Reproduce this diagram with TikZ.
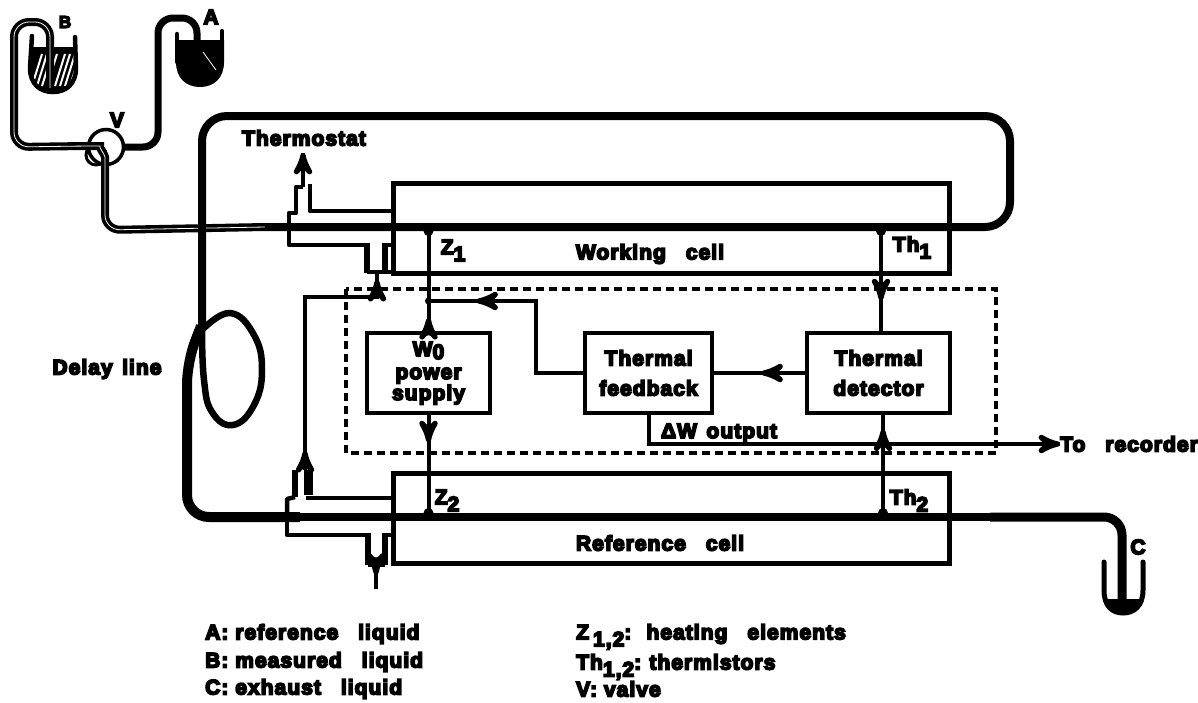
\documentclass[tikz,border=0pt]{standalone}
\usepackage{fontspec}
\setmainfont{Liberation Sans}[LetterSpace=5,BoldFeatures={FakeBold=8}]
\usetikzlibrary{arrows,positioning,decorations.markings}
\newcommand{\gap}{\hspace{.45em}}
\newcommand{\wgap}{\hspace{.95em}}
\newcommand{\lowered}[1]{\raisebox{-7pt}[0pt][0pt]{#1}}
\begin{document}
\begin{tikzpicture}[x=1pt,y=-1pt,>=stealth',
	unit/.style={draw=black,line width=4pt,rectangle,outer sep=0pt,inner sep=0pt,align=center,font=\fontsize{21}{27}\selectfont\bfseries},
	cell/.style={draw=black,line width=5pt,rectangle,outer sep=0pt,minimum width=556pt,minimum height=90pt},
	lab/.style={inner sep=0pt,font=\fontsize{21}{24}\selectfont\bfseries},
	pipe/.style={line width=8pt},
	tube/.style={line width=7pt,rounded corners=15pt},
	capillary/.style={double=white,double distance=.8pt,line width=3.6pt,rounded corners=15pt},
	jacket/.style={line width=4.5pt},
	wire/.style={line width=4pt},
	junction/.style={circle,fill=black,inner sep=0pt,minimum size=10pt},
	midarrow/.style={postaction={decorate,decoration={markings,mark=at position #1 with {\arrow[scale=1.35]{stealth'}}}}}]
	\useasboundingbox (0,0) rectangle (1198,702);

	\node[cell]						(wcell)		at (671,228)			{};
	\node[cell]						(rcell)		[below=200pt of wcell]	{};
	\node[unit,minimum width=123pt,minimum height=80pt]		(power)		at (428.5,373)			{W\raisebox{-3pt}[0pt][0pt]{0}\\[-4pt]power\\[-6pt]supply};
	\node[unit,minimum width=127pt,minimum height=80pt]		(feedback)	[right=95pt of power]	{Thermal\\[3pt]feedback};
	\node[unit,minimum width=143pt,minimum height=80pt]		(detector)	[right=95pt of feedback]	{Thermal\\[3pt]detector};

	\node[lab]	(thermostat)	at (304,138)	{Thermostat};
	\node[lab]	(delay)			at (107,369)	{Delay\gap line};
	\node[lab]	(working)		at (650,254)	{Working\wgap cell};
	\node[lab]	(reference)		at (660,543)	{Reference\wgap cell};
	\node[lab]	(zone)			at (453,247)	{Z\lowered{1}};
	\node[lab]	(ztwo)			at (447,497)	{Z\lowered{2}};
	\node[lab]	(thone)			at (912,244)	{Th\lowered{1}};
	\node[lab]	(thtwo)			at (909,497)	{Th\lowered{2}};
	\node[lab]	(output)		at (719,433)	{ΔW\gap output};
	\node[lab,anchor=west]	(recorder)	at (1060,444)	{To\wgap recorder};
	\node[lab]	(valvelabel)	at (117,120)	{V};
	\node[lab,font=\fontsize{17}{20}\selectfont\bfseries]	(blabel)	at (65,22)		{B};
	\node[lab]	(alabel)		at (211,17)		{A};
	\node[lab]	(clabel)		at (1138,547)	{C};
	\node[lab,anchor=west]	(lega)	at (205,634)	{A: reference\wgap liquid};
	\node[lab,anchor=west]	(legb)	at (205,662)	{B: measured\wgap liquid};
	\node[lab,anchor=west]	(legc)	at (205,689)	{C: exhaust\wgap liquid};
	\node[lab,anchor=west]	(legz)	at (576,634)	{Z\hspace{4pt}\lowered{1,2}:\hspace{6pt} heating\wgap elements};
	\node[lab,anchor=west]	(legth)	at (576,662)	{Th\lowered{1,2}:\hspace{-1pt} thermistors};
	\node[lab,anchor=west]	(legv)	at (576,689)	{V: valve};

	\coordinate	(z1top)		at (428.5,227);
	\coordinate	(z2bot)		at (428.5,517);
	\coordinate	(th1top)	at (881,227);
	\coordinate	(th2bot)	at (883,517);
	\coordinate	(fbjoin)	at (428.5,301);
	\coordinate	(wpipe)		at (265,227);

	\begin{scope}
		\clip	(30,47) -- (76,47) -- (76,68) .. controls (76,84) and (66,92) .. (53,92) .. controls (40,92) and (30,84) .. (30,68) -- cycle;
		\fill[black]	(28,45) rectangle (78,94);
		\foreach \x in {32,37,42,47,55,60,65,70}
			\draw[white,line width=2pt]	(\x,86) -- (\x+10,54);
	\end{scope}
	\draw[line width=4.5pt,line cap=round]	(32,36) -- (30,68) .. controls (30,84) and (40,92) .. (53,92) .. controls (66,92) and (76,84) .. (76,68) -- (75,37);
	\fill[black]	(176,40) -- (224,40) -- (224,62) .. controls (224,78) and (214,87) .. (200,87) .. controls (186,87) and (176,78) .. (176,62) -- cycle;
	\draw[white,line width=.8pt]	(203,52) -- (216,70);
	\draw[line width=4.5pt,line cap=round]	(177,34) -- (177,62);
	\draw[line width=4.5pt,line cap=round]	(222,31) -- (222,62);
	\draw[line width=5pt,line cap=round]	(1104,562) -- (1104,590) .. controls (1104,606) and (1112,613) .. (1123,613) .. controls (1134,613) and (1143,606) .. (1143,590) -- (1143,562);
	\fill[black]	(1104,599) -- (1143,599) .. controls (1141,609) and (1132,615) .. (1123,615) .. controls (1114,615) and (1106,609) .. (1104,599) -- cycle;

	\node[draw=black,circle,line width=3.5pt,fill=white,minimum size=35pt,inner sep=0pt,outer sep=0pt]	(valve)		at (106,147)	{};
	\node[draw=black,circle,line width=3pt,minimum size=20pt,inner sep=0pt,outer sep=0pt]	(valvering)	at (96,155)		{};

	\draw[tube]	(valve.east) -- (158,147) -- (158,18) -- (197,18) -- (197,42);
	\draw[capillary]	(50,88) -- (50,22) -- (14,22) -- (14,147) -- (85,146) .. controls (98,146) and (105,155) .. (105,172) -- (105,230) -- (wpipe);
	\draw[pipe,rounded corners=25pt]	(wpipe) -- (1010,227) -- (1010,116) -- (202,116) -- (202,327);
	\draw[line width=6.5pt,line join=round]	plot[smooth,tension=.75] coordinates {(202,330) (230,313) (254,335) (262,370) (254,405) (233,425) (212,412) (204,380) (202,330)};
	\draw[line width=10pt,rounded corners=22pt]	(201,326) -- (187,362) -- (187,517) -- (300,517);
	\draw[pipe]	(290,517) -- (1000,517);
	\draw[line width=9pt,rounded corners=18pt]	(990,517) -- (1122,517) -- (1122,604);

	\draw[jacket,line join=round]	(393,211) -- (310,211) -- (310,184);
	\draw[jacket,line join=round]	(289,227) -- (289,213) -- (296,213) -- (296,187) -- (303,187);
	\draw[jacket,line join=round]	(289,227) -- (289,245) -- (367,245);
	\draw[line width=6.5pt]			(367,243) -- (367,273);
	\draw[line width=5.5pt]			(385,243) -- (385,273);
	\draw[jacket]					(385,245) -- (393,245);
	\draw[jacket]					(367,272) -- (393,272);
	\draw[wire,midarrow=1]			(303,187) -- (303,153);
	\draw[wire,midarrow=.07,midarrow=.97]	(305,470) -- (305,297) -- (377,297) -- (377,272);
	\draw[line width=9pt]			(308,470) -- (308,495);
	\draw[jacket,line join=round]	(393,498) -- (306,498);
	\draw[line width=6pt]			(295,470) -- (295,497);
	\draw[jacket,line join=round]	(287,517) -- (287,499) -- (295,497);
	\draw[jacket,line join=round]	(287,517) -- (287,535) -- (368,535);
	\draw[line width=6.5pt]			(368,533) -- (368,565);
	\draw[line width=6.5pt]			(385,533) -- (385,565);
	\draw[jacket]					(385,535) -- (393,535);
	\draw[jacket]					(368,565) -- (385,565);
	\draw[wire,midarrow=.4]			(376,565) -- (376,589);

	\draw[line width=4pt,dash pattern=on 8pt off 5pt]	(346,289) rectangle (996,453);

	\node[junction]	(z1dot)		at (428.5,231)	{};
	\node[junction]	(z2dot)		at (428.5,513)	{};
	\node[junction]	(th1dot)	at (881,231)	{};
	\node[junction]	(th2dot)	at (883,513)	{};
	\node[junction,minimum size=7pt]	(fbdot)	at (fbjoin)	{};

	\path[wire]
		(power.north)	edge	[midarrow=.14]	(z1top)
		(th1top)		edge	[midarrow=.69]	(th1top |- detector.north)
		(th2bot)		edge	[midarrow=.84]	(th2bot |- detector.south)
		(power.south)	edge	[midarrow=.28]	(z2bot)
		(detector.west)	edge	[midarrow=.48]	(feedback.east)
	;
	\draw[wire,midarrow=.79]	(feedback.west) -- (536,373) -- (536,301) -- (fbjoin);
	\draw[wire,midarrow=1]		(feedback.south) |- (recorder.west);
\end{tikzpicture}
\end{document}
